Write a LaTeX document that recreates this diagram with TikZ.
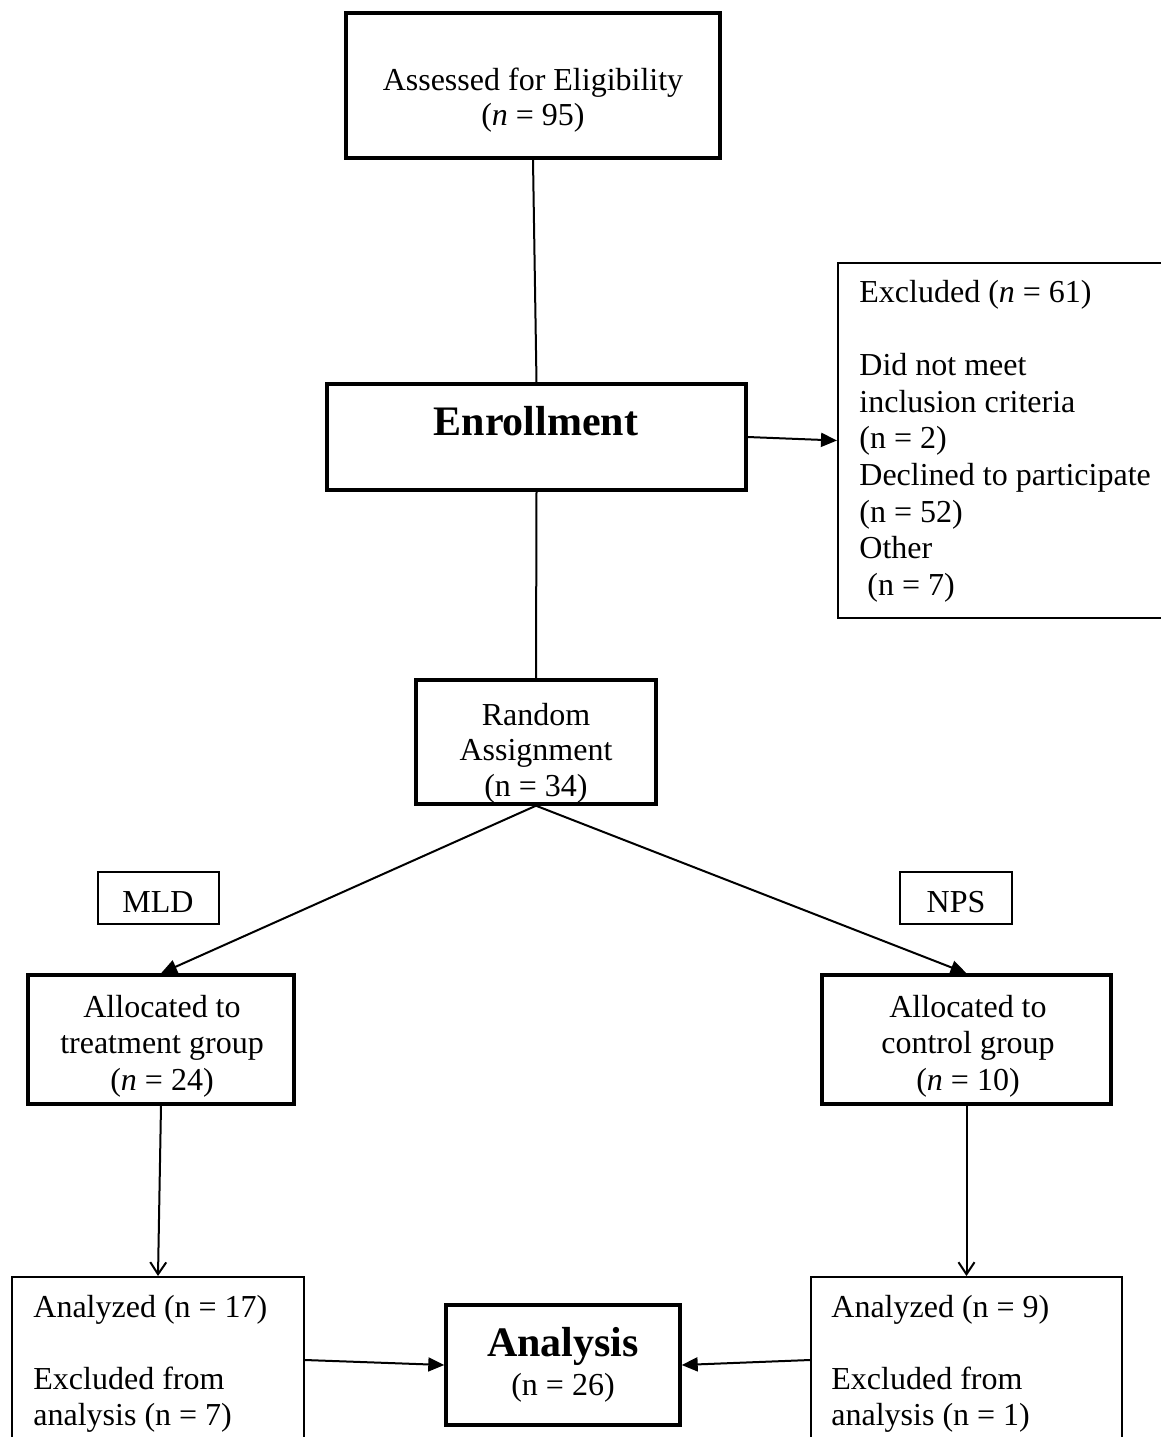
\documentclass[tikz,border=0pt]{standalone}
\usepackage{fontspec}
\setmainfont{Liberation Serif}
\usetikzlibrary{arrows.meta}

\begin{document}
\begin{tikzpicture}[x=0.5pt,y=-0.5pt,
  thickbox/.style={draw, line width=1.7pt, inner sep=0pt},
  thinbox/.style={draw, line width=1pt, inner sep=0pt},
  labbox/.style={draw, line width=1.2pt, inner sep=0pt},
  txt/.style={inner sep=0pt},
  conn/.style={line width=1pt},
  tri/.style={conn, -{Triangle[length=8pt,width=7pt]}},
  barb/.style={conn, -{Straight Barb[length=6pt,width=8pt]}}]

\useasboundingbox (0,0) rectangle (1161,1437);
\clip (0,0) rectangle (1161,1437);

% ---- texts ----
\node[txt, anchor=base] (assessT) at (533,90)
  {\fontsize{16}{17.5}\selectfont\begin{tabular}[t]{@{}c@{}}Assessed for Eligibility\\(\textit{n} = 95)\end{tabular}};
\node[txt, anchor=base] (enrollT) at (536,435)
  {\fontsize{21}{24}\selectfont\bfseries Enrollment};
\node[txt, anchor=base west] (exclT) at (859,302)
  {\fontsize{16}{18.35}\selectfont\begin{tabular}[t]{@{}l@{}}Excluded (\textit{n} = 61)\\ \\Did not meet\\inclusion criteria\\(n = 2)\\Declined to participate\\(n = 52)\\Other\\\ (n = 7)\end{tabular}};
\node[txt, anchor=base] (randT) at (536,725)
  {\fontsize{16}{17.75}\selectfont\begin{tabular}[t]{@{}c@{}}Random\\Assignment\\(n = 34)\end{tabular}};
\node[txt, anchor=base] (mldT) at (158,912) {\fontsize{16}{18}\selectfont MLD};
\node[txt, anchor=base] (npsT) at (956,912) {\fontsize{16}{18}\selectfont NPS};
\node[txt, anchor=base] (treatT) at (162,1017)
  {\fontsize{16}{18.25}\selectfont\begin{tabular}[t]{@{}c@{}}Allocated to\\treatment group\\(\textit{n} = 24)\end{tabular}};
\node[txt, anchor=base] (ctrlT) at (968,1017)
  {\fontsize{16}{18.25}\selectfont\begin{tabular}[t]{@{}c@{}}Allocated to\\control group\\(\textit{n} = 10)\end{tabular}};
\node[txt, anchor=base west] (anlT) at (33,1317)
  {\fontsize{16}{18}\selectfont\begin{tabular}[t]{@{}l@{}}Analyzed (n = 17)\\ \\Excluded from\\analysis (n = 7)\end{tabular}};
\node[txt, anchor=base west] (anrT) at (831,1317)
  {\fontsize{16}{18}\selectfont\begin{tabular}[t]{@{}l@{}}Analyzed (n = 9)\\ \\Excluded from\\analysis (n = 1)\end{tabular}};
\node[txt, anchor=base] (analysisT) at (563,1356)
  {\fontsize{16}{19.5}\selectfont\begin{tabular}[t]{@{}c@{}}{\fontsize{21}{24}\selectfont\bfseries Analysis}\\(n = 26)\end{tabular}};

% ---- boxes (drawn over the texts) ----
\node[thickbox, minimum width=187pt, minimum height=72.5pt] (assess) at (533,85.5) {};
\node[thickbox, minimum width=209.5pt, minimum height=53pt] (enroll) at (536.5,437) {};
\node[thinbox, minimum width=168.5pt, minimum height=177.5pt] (excl) at (1006.5,440.5) {};
\node[thickbox, minimum width=120pt, minimum height=62pt] (rand) at (536,742) {};
\node[labbox, minimum width=60.5pt, minimum height=26pt] (mld) at (158.5,898) {};
\node[labbox, minimum width=56pt, minimum height=26pt] (nps) at (956,898) {};
\node[thickbox, minimum width=133pt, minimum height=64.5pt] (treat) at (161,1039.5) {};
\node[thickbox, minimum width=144.5pt, minimum height=64.5pt] (ctrl) at (966.5,1039.5) {};
\node[thinbox, minimum width=146pt, minimum height=83pt] (anl) at (158,1360) {};
\node[thinbox, minimum width=155.5pt, minimum height=83pt] (anr) at (966.5,1360) {};
\node[thickbox, minimum width=117pt, minimum height=60pt] (analysis) at (563,1365) {};

% ---- connectors ----
\draw[conn] (assess.south) -- (enroll.north);
\draw[tri] (enroll.east) -- (excl.west);
\draw[conn] (enroll.south) -- (rand.north);
\draw[tri] (rand.south) -- (treat.north);
\draw[tri] (rand.south) -- (ctrl.north);
\draw[barb] (treat.south) -- (anl.north);
\draw[barb] (ctrl.south) -- (anr.north);
\draw[tri] (anl.east) -- (analysis.west);
\draw[tri] (anr.west) -- (analysis.east);
\end{tikzpicture}
\end{document}
